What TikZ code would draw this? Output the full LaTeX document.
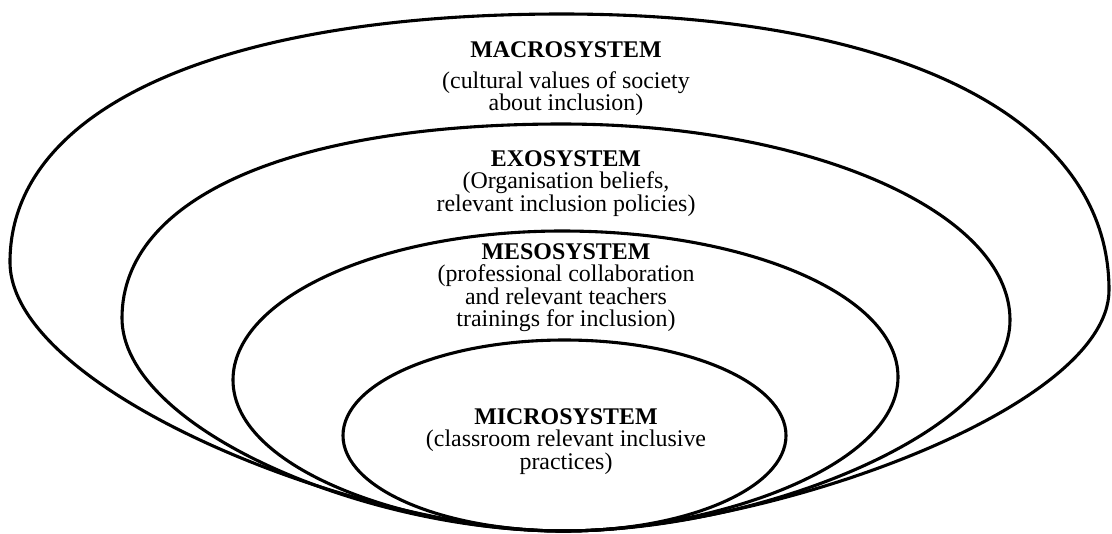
\documentclass[tikz,border=0pt]{standalone}
\usepackage{fontspec}
\setmainfont{Liberation Serif}
\usetikzlibrary{positioning}

\begin{document}
\begin{tikzpicture}[x=0.025cm,y=-0.025cm,
    sys/.style={draw=black,line width=2.2pt,line join=round},
    lbl/.style={align=center,inner sep=0pt,anchor=north,font=\fontsize{17}{16}\selectfont}]
  \useasboundingbox (0,0) rectangle (1112,533);
  \coordinate (bot) at (563,531);
  % macrosystem
  \draw[sys] (bot) .. controls (363,531) and (10,392) .. (10,262)
     .. controls (10,108) and (220,14) .. (562,14)
     .. controls (901,14) and (1109,119) .. (1109,290)
     .. controls (1109,410) and (763,531) .. (bot) -- cycle;
  % exosystem
  \draw[sys] (bot) .. controls (363,531) and (122,427) .. (122,318)
     .. controls (122,198) and (290,124) .. (562,124)
     .. controls (810,124) and (1010,212) .. (1010,320)
     .. controls (1010,430) and (763,531) .. (bot) -- cycle;
  % mesosystem
  \draw[sys] (bot) .. controls (413,531) and (233,470) .. (233,380)
     .. controls (233,298) and (380,231) .. (562,231)
     .. controls (747,231) and (898,295) .. (898,377)
     .. controls (898,467) and (713,531) .. (bot) -- cycle;
  % microsystem
  \draw[sys] (564.5,435.5) ellipse [x radius=221.5, y radius=95.5];

  \node[lbl] (macro) at (566,41) {\textbf{MACROSYSTEM}\\[6pt](cultural values of society\\about inclusion)};
  \node[lbl] (exo) at (566,150) {\textbf{EXOSYSTEM}\\(Organisation beliefs,\\relevant inclusion policies)};
  \node[lbl] (meso) at (566,243) {\textbf{MESOSYSTEM}\\(professional collaboration\\and relevant teachers\\trainings for inclusion)};
  \node[lbl] (micro) at (566,408) {\textbf{MICROSYSTEM}\\(classroom relevant inclusive\\practices)};
\end{tikzpicture}
\end{document}
